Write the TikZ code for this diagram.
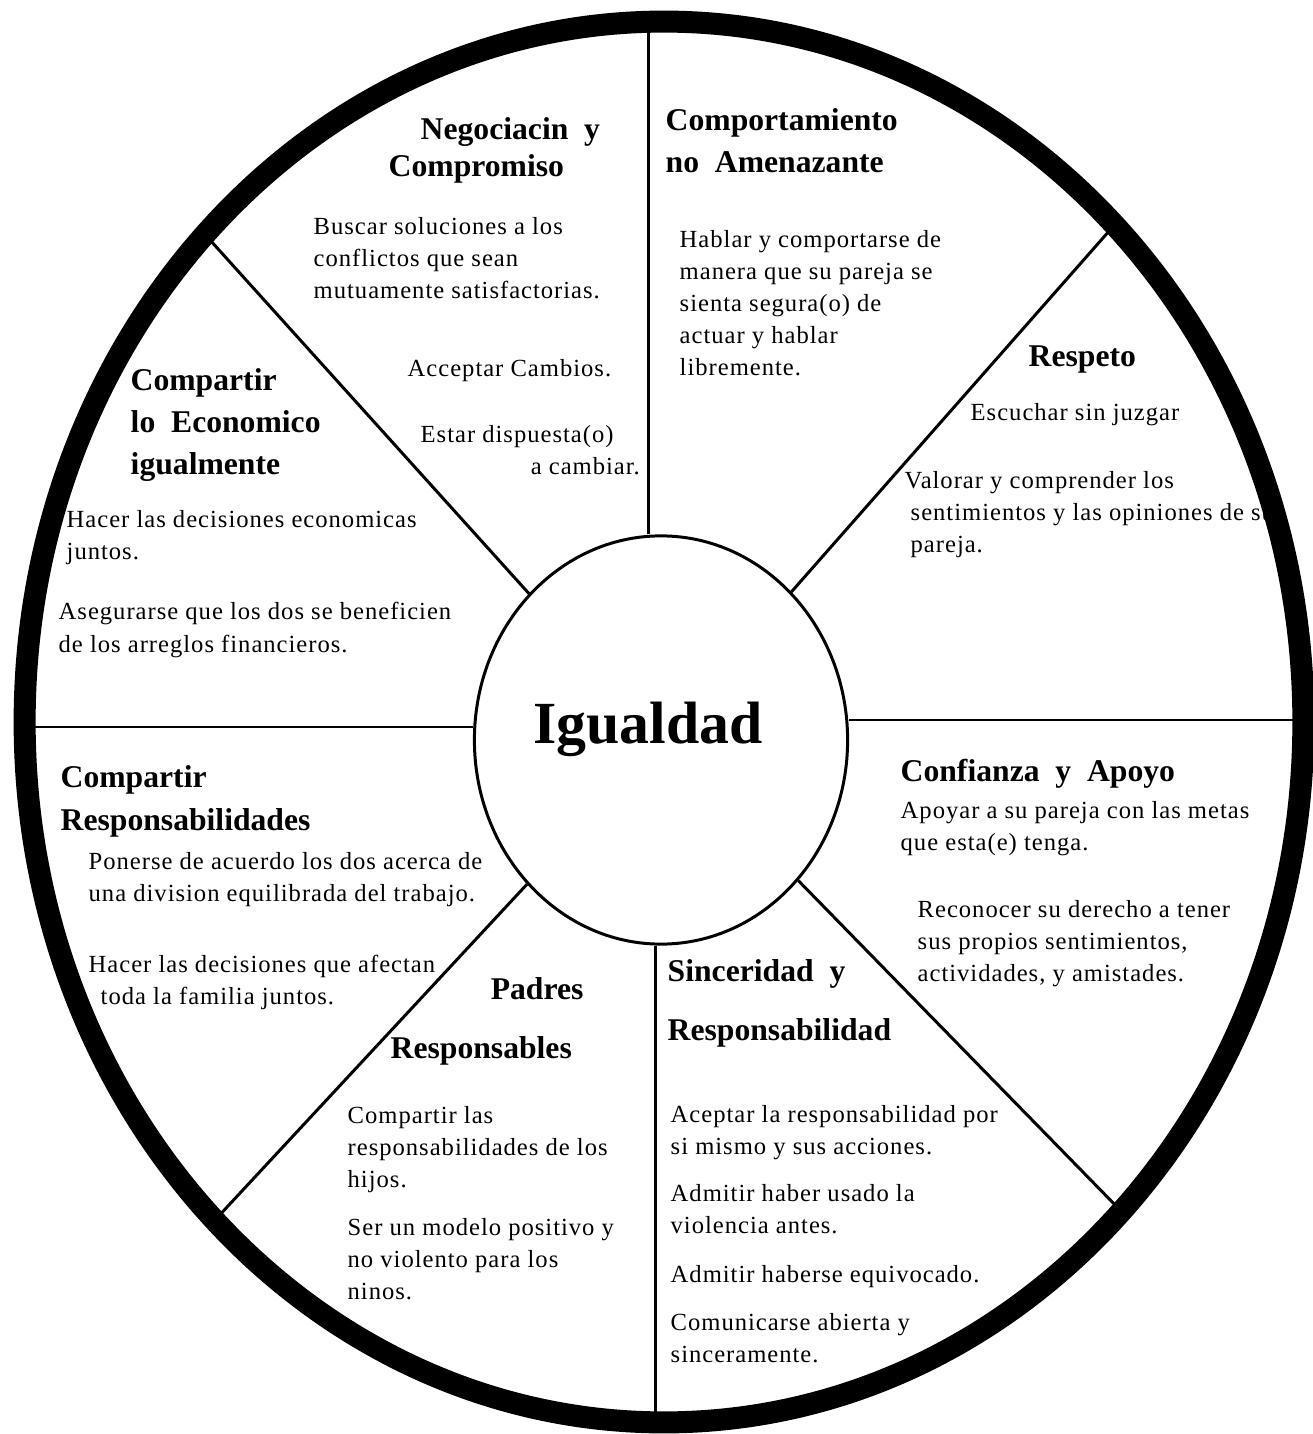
\documentclass[tikz,border=0pt]{standalone}
\usepackage{fontspec}
\setmainfont{Liberation Serif}
\usetikzlibrary{shapes.geometric}

\tikzset{
  spoke/.style={line width=0.85pt},
  head/.style={anchor=base west, inner sep=0pt, align=left, font=\bfseries\fontsize{9}{12}\selectfont},
  body/.style={anchor=base west, inner sep=0pt, align=left, font=\addfontfeature{LetterSpace=4}\fontsize{7}{9.1}\selectfont},
}

\begin{document}
\begin{tikzpicture}[x=0.01cm, y=-0.01cm]
  \useasboundingbox (0,0) rectangle (1313,1434);
  % hub
  \node[draw, ellipse, spoke, minimum width=3.73cm, minimum height=4.08cm, inner sep=0pt] (hub) at (661,740) {};
  \node[anchor=base, inner sep=0pt, font=\bfseries\fontsize{17}{20}\selectfont] (equal) at (648,743) {Igualdad};
  % spokes
  \coordinate (n) at (648,25);
  \coordinate (s) at (655,1415);
  \coordinate (w) at (25,727);
  \coordinate (e) at (1300,720);
  \coordinate (nw) at (210,240);
  \coordinate (ne) at (1110,230);
  \coordinate (sw) at (215,1220);
  \coordinate (se) at (1120,1210);
  \draw[spoke] (n) -- (n |- hub.north);
  \draw[spoke] (s) -- (s |- hub.south);
  \draw[spoke] (w) -- (w -| hub.west);
  \draw[spoke] (e) -- (e -| hub.east);
  \foreach \c in {nw,ne,sw,se}
    \draw[spoke] (\c) -- (hub);
  % headings (anchored at the last line)
  \node[head] (negoc) at (388,177) {\hspace*{0.32cm}Negociacin\enspace y\\[-0.05cm]Compromiso};
  \node[head] (compor) at (665,173) {Comportamiento\\no\enspace Amenazante};
  \node[head] (respeto) at (1028,367) {Respeto};
  \node[head] (econ) at (130,475) {Compartir\\lo\enspace Economico\\igualmente};
  \node[head] (shared) at (60,830) {Compartir\\Responsabilidades};
  \node[head] (trust) at (900,781) {Confianza\enspace y\enspace Apoyo};
  \node[head] (parents) at (390,1058) {\hspace*{1cm}Padres\\[0.16cm]Responsables};
  \node[head] (honest) at (667,1040) {Sinceridad\enspace y\\[0.16cm]Responsabilidad};
  % texts (anchored at the last line)
  \node[body] (b1) at (313,299) {Buscar soluciones a los\\conflictos que sean\\mutuamente satisfactorias.};
  \node[body] (b2) at (407,377) {Acceptar Cambios.};
  \node[body] (b3) at (420,475) {Estar dispuesta(o)\\\hspace*{1.1cm}a cambiar.};
  \node[body] (b4) at (679,376) {Hablar y comportarse de\\manera que su pareja se\\sienta segura(o) de\\actuar y hablar\\libremente.};
  \node[body] (b5) at (970,421) {Escuchar sin juzgar};
  \node[body] (b6) at (904,553) {Valorar y comprender los\\\hspace*{0.06cm}sentimientos y las opiniones de su\\\hspace*{0.06cm}pareja.};
  \node[body] (b7) at (66,560) {Hacer las decisiones economicas\\juntos.};
  \node[body] (b8) at (58,652) {Asegurarse que los dos se beneficien\\de los arreglos financieros.};
  \node[body] (b9) at (88,901) {Ponerse de acuerdo los dos acerca de\\una division equilibrada del trabajo.};
  \node[body] (b10) at (88,1004) {Hacer las decisiones que afectan\\\hspace*{0.12cm}toda la familia juntos.};
  \node[body] (b11) at (900,850) {Apoyar a su pareja con las metas\\que esta(e) tenga.};
  \node[body] (b12) at (917,981) {Reconocer su derecho a tener\\sus propios sentimientos,\\actividades, y amistades.};
  \node[body] (b13) at (347,1187) {Compartir las\\responsabilidades de los\\hijos.};
  \node[body] (b14) at (347,1299) {Ser un modelo positivo y\\no violento para los\\ninos.};
  \node[body] (b15) at (670,1154) {Aceptar la responsabilidad por\\si mismo y sus acciones.};
  \node[body] (b16) at (670,1233) {Admitir haber usado la\\violencia antes.};
  \node[body] (b17) at (670,1282) {Admitir haberse equivocado.};
  \node[body] (b18) at (670,1362) {Comunicarse abierta y\\sinceramente.};
  % rim on top
  \node[draw, ellipse, line width=2.2mm, minimum width=12.78cm, minimum height=14cm, inner sep=0pt] (rim) at (664,722) {};
\end{tikzpicture}
\end{document}
